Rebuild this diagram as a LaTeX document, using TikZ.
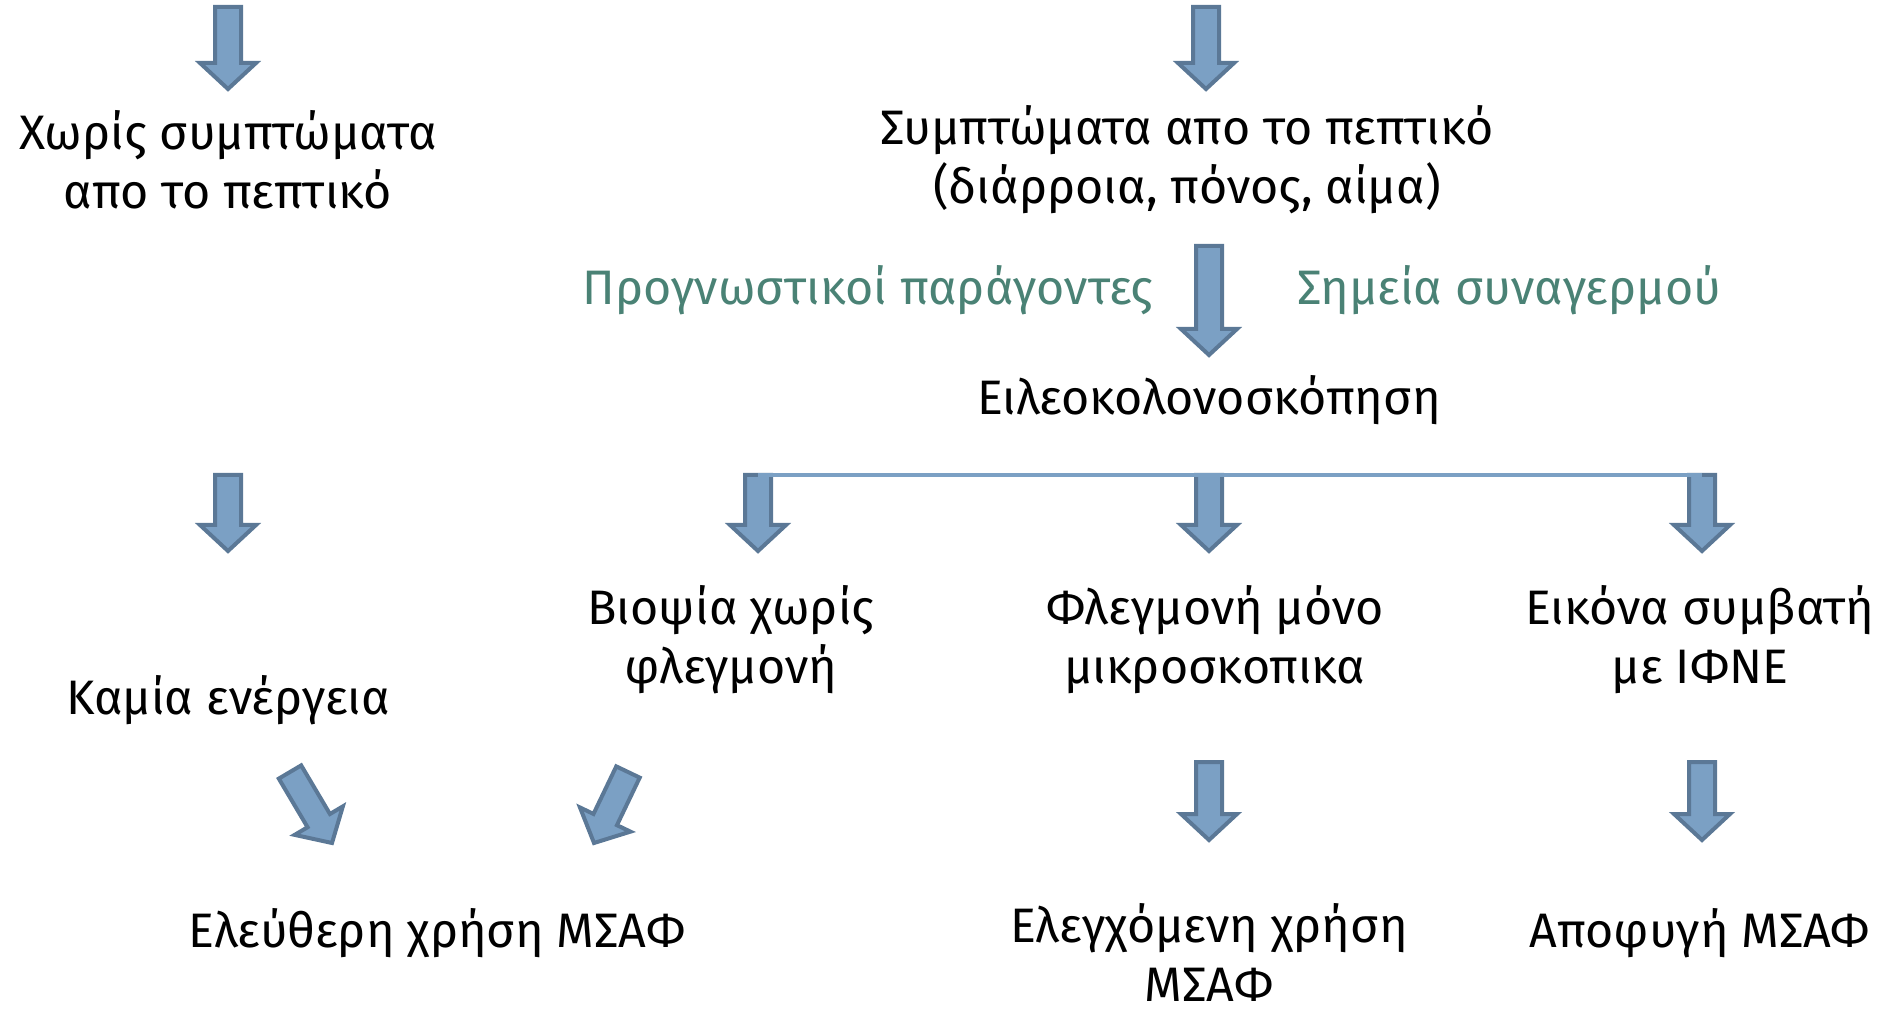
\documentclass[tikz,border=0pt]{standalone}
\usepackage{fontspec}
\setmainfont{Fira Sans}
\usepackage{tikz}
\usetikzlibrary{calc, positioning}
\definecolor{arrowfill}{RGB}{123,160,196}
\definecolor{arrowline}{RGB}{91,120,150}
\definecolor{tealtext}{RGB}{74,130,117}
\tikzset{barrowbox/.style={fill=arrowfill, draw=arrowline, line width=2pt, line join=miter}}
\tikzset{lbl/.style={align=center, inner sep=0pt, font=\fontsize{24.2}{29.5}\selectfont}}
\tikzset{side/.style={lbl, text=tealtext}}
\tikzset{bar/.style={draw=arrowfill, line width=2pt}}

% block arrow from one named coordinate to another
\newcommand{\barrow}[2]{%
  \coordinate (hb) at ($(#2)!13pt!(#1)$);
  \draw[barrowbox] ($(#1)!6.5pt!-90:(#2)$) -- ($(#1)!6.5pt!90:(#2)$)
    -- ($(hb)!6.5pt!90:(#2)$) -- ($(hb)!14pt!90:(#2)$) -- (#2)
    -- ($(hb)!14pt!-90:(#2)$) -- ($(hb)!6.5pt!-90:(#2)$) -- cycle;
}

\begin{document}
\begin{tikzpicture}[x=0.5pt, y=-0.5pt]
\useasboundingbox (0,0) rectangle (1886,1010);

\node[lbl] (none) at (228,160) {Χωρίς συμπτώματα\\απο το πεπτικό};
\node[lbl] (symp) at (1187,160) {Συμπτώματα απο το πεπτικό\\(διάρροια, πόνος, αίμα)};
\node[side] (prog) at (868,290) {Προγνωστικοί παράγοντες};
\node[side] (alarm) at (1509,290) {Σημεία συναγερμού};
\node[lbl] (ileo) at (1209,400) {Ειλεοκολονοσκόπηση};
\node[lbl] (biopsy) at (731,640) {Βιοψία χωρίς\\φλεγμονή};
\node[lbl] (micro) at (1215,640) {Φλεγμονή μόνο\\μικροσκοπικα};
\node[lbl] (ibd) at (1700,640) {Εικόνα συμβατή\\με ΙΦΝΕ};
\node[lbl] (noact) at (228,700) {Καμία ενέργεια};
\node[lbl] (free) at (437,933) {Ελεύθερη χρήση ΜΣΑΦ};
\node[lbl] (ctrl) at (1209,952) {Ελεγχόμενη χρήση\\ΜΣΑΦ};
\node[lbl] (avoid) at (1700,933) {Αποφυγή ΜΣΑΦ};

% arrow ends
\coordinate (t1s) at (228,7);    \coordinate (t1e) at (228,89);
\coordinate (t2s) at (1206,7);   \coordinate (t2e) at (1206,89);
\coordinate (ms) at (1209,246);  \coordinate (me) at (1209,355);
\coordinate (r0s) at (228,475);  \coordinate (r0e) at (228,551);
\coordinate (r1s) at (758,475);  \coordinate (r1e) at (758,551);
\coordinate (r2s) at (1209,475); \coordinate (r2e) at (1209,551);
\coordinate (r3s) at (1702,475); \coordinate (r3e) at (1702,551);
\coordinate (d1s) at (290,772);  \coordinate (d1e) at (332,843);
\coordinate (d2s) at (628,772);  \coordinate (d2e) at (594,843);
\coordinate (b2s) at (1209,762); \coordinate (b2e) at (1209,840);
\coordinate (b3s) at (1702,762); \coordinate (b3e) at (1702,840);

\barrow{t1s}{t1e}
\barrow{t2s}{t2e}
\barrow{ms}{me}
\barrow{r0s}{r0e}
\barrow{r1s}{r1e}
\barrow{r2s}{r2e}
\barrow{r3s}{r3e}
\barrow{d1s}{d1e}
\barrow{d2s}{d2e}
\barrow{b2s}{b2e}
\barrow{b3s}{b3e}

\draw[bar] (r1s) -- (r3s);
\end{tikzpicture}
\end{document}
